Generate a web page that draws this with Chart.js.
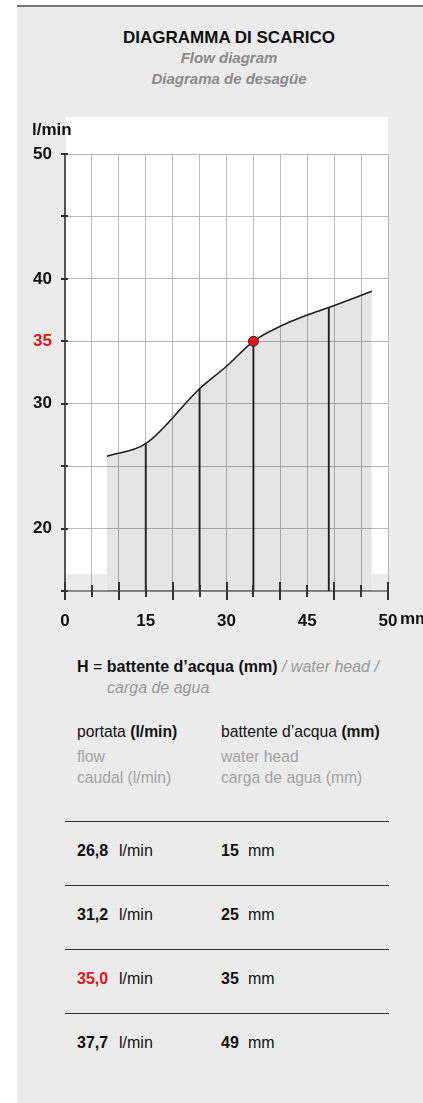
<!DOCTYPE html>
<html>
<head>
<meta charset="utf-8">
<script src="https://cdn.jsdelivr.net/npm/chart.js@4.4.1/dist/chart.umd.min.js"></script>
<style>
    body {
        margin: 0;
        width: 423px;
        height: 1103px;
        overflow: hidden;
        background: #fff;
        font-family: "Liberation Sans", Arial, sans-serif;
        position: relative;
    }
    .panel {
        position: absolute;
        left: 17px;
        top: 5px;
        right: 0;
        bottom: 0;
        background: #ebebeb;
        border-top: 2px solid #777;
    }
    .abs {
        position: absolute;
        white-space: nowrap;
        line-height: 1;
    }
    .title {
        left: 79px;
        width: 300px;
        text-align: center;
        font-weight: bold;
    }
    .note { font-size: 16px; }
    .head { font-size: 15.7px; }
    .gray { color: #999; }
    .light { color: #a3a3a3; }
    #chart {
        position: absolute;
        left: 0;
        top: 100px;
    }
    #rows {
        position: absolute;
        left: 65px;
        top: 821px;
        width: 324px;
    }
    .row {
        position: relative;
        height: 63px;
        border-top: 1px solid #333;
        font-size: 16px;
        line-height: 1;
        color: #111;
    }
    .row span { position: absolute; top: 21px; }
</style>
</head>
<body>
<div class="panel"></div>

<div class="abs title" style="top:29px; font-size:17px; color:#111;">DIAGRAMMA DI SCARICO</div>
<div class="abs title" style="top:50px; font-size:15px; color:#8a8a8a; font-style:italic;">Flow diagram</div>
<div class="abs title" style="top:71px; font-size:15px; color:#8a8a8a; font-style:italic;">Diagrama de desagüe</div>

<canvas id="chart" width="423" height="540"></canvas>

<div class="abs note" style="left:77px; top:659px; color:#111;"><b>H</b> = <b>battente d’acqua (mm)</b> <i class="gray">/ water head /</i></div>
<div class="abs note gray" style="left:107px; top:680px; font-style:italic;">carga de agua</div>

<div class="abs head" style="left:77px; top:724px; color:#111;">portata <b>(l/min)</b></div>
<div class="abs head light" style="left:77px; top:749px;">flow</div>
<div class="abs head light" style="left:77px; top:770px;">caudal (l/min)</div>
<div class="abs head" style="left:221px; top:724px; color:#111;">battente d’acqua <b>(mm)</b></div>
<div class="abs head light" style="left:221px; top:749px;">water head</div>
<div class="abs head light" style="left:221px; top:770px;">carga de agua (mm)</div>

<div id="rows"></div>

<script>
// discharge curve: water head (mm) -> flow (l/min)
const curveHead = [7.8, 15, 25, 30, 35, 40, 45, 49, 57];
const curveFlow = [25.8, 26.8, 31.2, 33.0, 35.0, 36.2, 37.1, 37.7, 39.0];

// reference rows listed under the chart
const tableHead = [15, 25, 35, 49];
const tableFlow = [26.8, 31.2, 35.0, 37.7];
const highlight = 2;

const xTickValues = [0, 15, 30, 45, 60];
const xTickLabels = ['0', '15', '30', '45', '50'];
const yTickLabels = [20, 30, 35, 40, 50];

const RED = '#e3141c';
const INK = '#111';
const FONT = '"Liberation Sans", Arial, sans-serif';

Chart.defaults.font.family = FONT;

const rows = document.getElementById('rows');
tableFlow.forEach((flow, i) => {
    let color = i === highlight ? RED : INK;
    rows.insertAdjacentHTML('beforeend', `
        <div class="row">
            <span style="left:12px; font-weight:bold; color:${color}">${flow.toFixed(1).replace('.', ',')}</span>
            <span style="left:54px">l/min</span>
            <span style="left:156px; font-weight:bold">${tableHead[i]}</span>
            <span style="left:183px">mm</span>
        </div>
    `);
});

const frame = {
    id: 'frame',
    beforeDraw(chart) {
        const {ctx, chartArea: a, scales: {x}} = chart;
        ctx.save();
        ctx.fillStyle = '#fff';
        ctx.fillRect(a.left + 1, a.top - 37, a.right - a.left - 1, a.bottom - a.top + 37);
        // bottom strip stays gray outside the filled area
        ctx.fillStyle = '#ebebeb';
        let x0 = x.getPixelForValue(curveHead[0]);
        let x1 = x.getPixelForValue(curveHead[curveHead.length - 1]);
        ctx.fillRect(a.left + 1, a.bottom - 17, x0 - a.left - 1, 17);
        ctx.fillRect(x1, a.bottom - 17, a.right - x1, 17);
        ctx.restore();
    },
    afterDraw(chart) {
        const {ctx, chartArea: a, scales: {x, y}} = chart;
        ctx.save();
        ctx.strokeStyle = '#333';
        ctx.lineWidth = 2;
        ctx.beginPath();
        y.ticks.forEach(t => {
            let py = Math.round(y.getPixelForValue(t.value));
            ctx.moveTo(a.left - 4, py);
            ctx.lineTo(a.left + 3, py);
        });
        x.ticks.forEach(t => {
            let px = Math.round(x.getPixelForValue(t.value));
            let h = t.value % 10 === 0 ? 9 : 6;
            ctx.moveTo(px, a.bottom - h);
            ctx.lineTo(px, a.bottom + h);
        });
        ctx.stroke();

        ctx.fillStyle = INK;
        ctx.font = 'bold 17px ' + FONT;
        ctx.textAlign = 'left';
        ctx.textBaseline = 'alphabetic';
        ctx.fillText('l/min', a.left - 33, a.top - 19);
        ctx.fillText('mm', a.right + 12, a.bottom + 33);
        ctx.restore();
    }
};

new Chart(document.getElementById('chart'), {
    type: 'line',
    data: {
        datasets: [
            {
                data: curveHead.map((h, i) => ({x: h, y: curveFlow[i]})),
                borderColor: '#1e1e1e',
                borderWidth: 1.6,
                backgroundColor: 'rgba(0,0,0,0.1)',
                fill: 'start',
                pointRadius: 0,
                cubicInterpolationMode: 'monotone',
                order: 3,
            },
            {
                type: 'bar',
                data: tableHead.map((h, i) => ({x: h, y: tableFlow[i]})),
                backgroundColor: '#1e1e1e',
                barThickness: 1.2,
                order: 2,
            },
            {
                data: [{x: tableHead[highlight], y: tableFlow[highlight]}],
                showLine: false,
                pointRadius: 5,
                pointBackgroundColor: RED,
                pointBorderColor: '#3a1a1a',
                pointBorderWidth: 1,
                order: 1,
            }
        ]
    },
    options: {
        responsive: false,
        animation: false,
        devicePixelRatio: 1,
        layout: {
            padding: {top: 54, right: 35, left: 0, bottom: 0}
        },
        plugins: {
            legend: {display: false},
            tooltip: {enabled: false},
        },
        scales: {
            x: {
                type: 'linear',
                min: 0,
                max: 60,
                offset: false,
                afterFit: s => { s.height = 49; },
                ticks: {
                    stepSize: 5,
                    autoSkip: false,
                    maxRotation: 0,
                    padding: 20,
                    color: INK,
                    font: {size: 17, weight: 'bold'},
                    callback: v => {
                        let i = xTickValues.indexOf(v);
                        return i >= 0 ? xTickLabels[i] : '';
                    }
                },
                grid: {color: '#b8b8b8', lineWidth: 1, drawTicks: false, offset: false},
                border: {color: '#888', width: 2},
            },
            y: {
                min: 15,
                max: 50,
                afterFit: s => { s.width = 65; },
                ticks: {
                    stepSize: 5,
                    autoSkip: false,
                    padding: 13,
                    font: {size: 17, weight: 'bold'},
                    color: ctx => ctx.tick.value === tableFlow[highlight] ? RED : INK,
                    callback: v => yTickLabels.includes(v) ? String(v) : '',
                },
                grid: {color: '#b8b8b8', lineWidth: 1, drawTicks: false},
                border: {color: '#555', width: 2},
            }
        }
    },
    plugins: [frame]
});
</script>
</body>
</html>
